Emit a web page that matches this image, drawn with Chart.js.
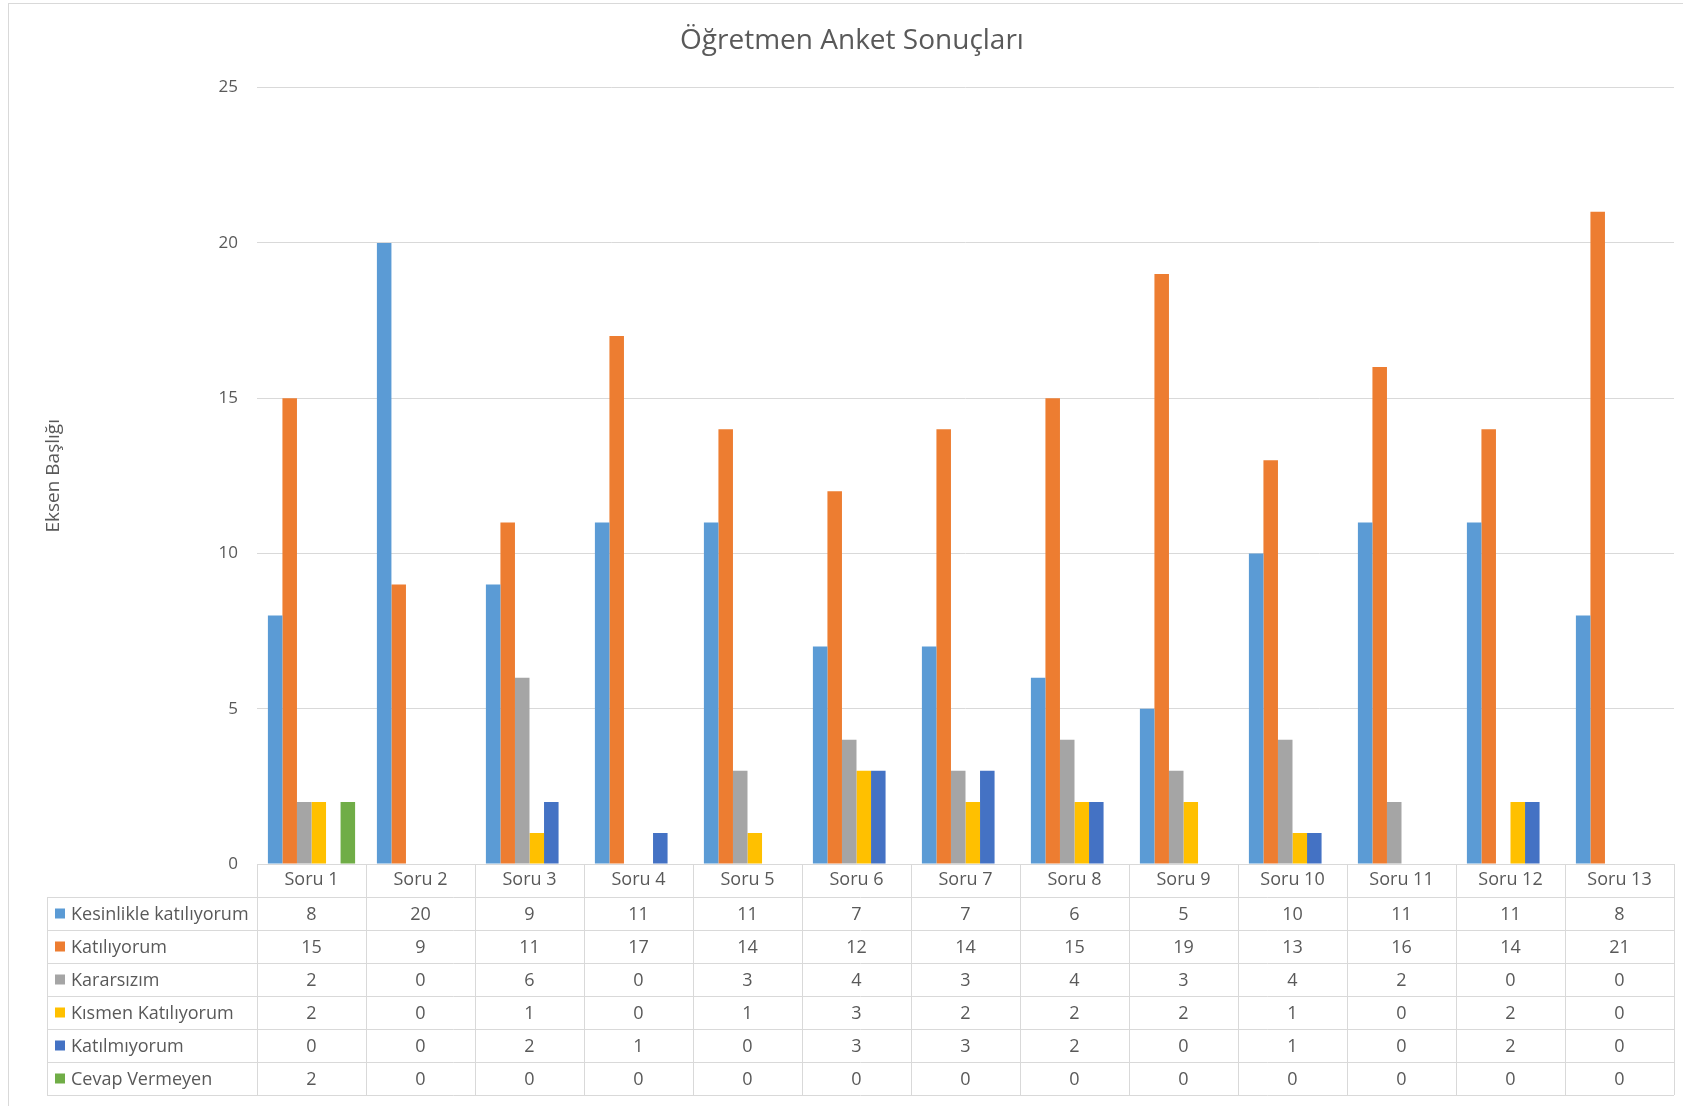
<!DOCTYPE html>
<html>
<head>
<meta charset="utf-8">
<script src="https://cdn.jsdelivr.net/npm/chart.js@4"></script>
<style>
  body { margin: 0; background: #fff; }
  #wrap { width: 1683px; height: 1106px; position: relative; }
</style>
</head>
<body>
<div id="wrap"><canvas id="surveyChart"></canvas></div>
<script>
const categories = ["Soru 1", "Soru 2", "Soru 3", "Soru 4", "Soru 5", "Soru 6", "Soru 7",
  "Soru 8", "Soru 9", "Soru 10", "Soru 11", "Soru 12", "Soru 13"];

const kesinlikle = [8, 20, 9, 11, 11, 7, 7, 6, 5, 10, 11, 11, 8];
const katiliyorum = [15, 9, 11, 17, 14, 12, 14, 15, 19, 13, 16, 14, 21];
const kararsizim = [2, 0, 6, 0, 3, 4, 3, 4, 3, 4, 2, 0, 0];
const kismen = [2, 0, 1, 0, 1, 3, 2, 2, 2, 1, 0, 2, 0];
const katilmiyorum = [0, 0, 2, 1, 0, 3, 3, 2, 0, 1, 0, 2, 0];
const cevapVermeyen = [2, 0, 0, 0, 0, 0, 0, 0, 0, 0, 0, 0, 0];

const seriesNames = ["Kesinlikle katılıyorum", "Katılıyorum", "Kararsızım",
  "Kısmen Katılıyorum", "Katılmıyorum", "Cevap Vermeyen"];
const seriesValues = [kesinlikle, katiliyorum, kararsizim, kismen, katilmiyorum, cevapVermeyen];
const colors = ["#5B9BD5", "#ED7D31", "#A5A5A5", "#FFC000", "#4472C4", "#70AD47"];

const yTicks = [0, 5, 10, 15, 20, 25];

const FONT = "'Open Sans', sans-serif";
const TEXT = "#595959";
const LINE = "#d9d9d9";

// frame + data table under the plot
const tablePlugin = {
  id: "dataTable",
  afterDraw(chart) {
    const ctx = chart.ctx;
    const x = chart.scales.x;
    const area = chart.chartArea;
    const colW = (x.right - x.left) / categories.length;
    const rowH = 33;
    const headTop = area.bottom;
    const rowsTop = headTop + rowH;
    const bottom = rowsTop + rowH * seriesNames.length;
    const legLeft = 47;

    ctx.save();
    ctx.strokeStyle = LINE;
    ctx.lineWidth = 1;

    // outer chart border
    ctx.strokeRect(8.5, 3.5, 1700, 1200);

    ctx.beginPath();
    ctx.moveTo(x.left, Math.round(headTop) + 0.5);
    ctx.lineTo(x.right, Math.round(headTop) + 0.5);
    for (let r = 0; r <= seriesNames.length; r++) {
      const y = Math.round(rowsTop + r * rowH) + 0.5;
      ctx.moveTo(legLeft, y);
      ctx.lineTo(x.right, y);
    }
    ctx.moveTo(legLeft + 0.5, rowsTop);
    ctx.lineTo(legLeft + 0.5, bottom);
    for (let c = 0; c <= categories.length; c++) {
      const xx = Math.round(x.left + c * colW) + 0.5;
      ctx.moveTo(xx, headTop);
      ctx.lineTo(xx, bottom);
    }
    ctx.stroke();

    ctx.font = "18px " + FONT;
    ctx.fillStyle = TEXT;
    ctx.textBaseline = "middle";
    seriesNames.forEach((name, r) => {
      const cy = rowsTop + r * rowH + rowH / 2;
      ctx.fillStyle = colors[r];
      ctx.fillRect(55, cy - 5, 10, 10);
      ctx.fillStyle = TEXT;
      ctx.textAlign = "left";
      ctx.fillText(name, 71, cy + 1);
      ctx.textAlign = "center";
      seriesValues[r].forEach((v, i) => {
        ctx.fillText(String(v), x.getPixelForValue(i), cy + 1);
      });
    });
    ctx.restore();
  }
};

const ctx = document.getElementById("surveyChart").getContext("2d");

new Chart(ctx, {
  type: "bar",
  data: {
    labels: categories,
    datasets: seriesNames.map((name, i) => ({
      label: name,
      data: seriesValues[i],
      backgroundColor: colors[i],
      borderWidth: 0,
      barPercentage: 1,
      categoryPercentage: 0.8,
    })),
  },
  options: {
    responsive: true,
    maintainAspectRatio: false,
    animation: false,
    layout: {
      padding: { left: 30, right: 9, top: 0, bottom: 209 },
    },
    plugins: {
      legend: { display: false },
      tooltip: { enabled: false },
      title: {
        display: true,
        text: "Öğretmen Anket Sonuçları",
        color: TEXT,
        font: { family: FONT, size: 28, weight: "normal" },
        padding: { top: 24, bottom: 30 },
      },
    },
    scales: {
      x: {
        grid: { display: false, drawTicks: false },
        border: { display: true, color: LINE },
        ticks: {
          color: TEXT,
          font: { family: FONT, size: 18 },
          padding: 5,
          maxRotation: 0,
        },
        afterFit(scale) {
          scale.height = 33;
        },
      },
      y: {
        min: 0,
        max: 25,
        afterBuildTicks(scale) {
          scale.ticks = yTicks.map(v => ({ value: v }));
        },
        grid: { color: LINE, drawTicks: false },
        border: { display: false },
        ticks: {
          color: TEXT,
          font: { family: FONT, size: 17 },
          padding: 19,
        },
        title: {
          display: true,
          text: "Eksen Başlığı",
          color: TEXT,
          font: { family: FONT, size: 19 },
          padding: { top: 12 },
        },
        afterFit(scale) {
          scale.width = 227;
        },
      },
    },
  },
  plugins: [tablePlugin],
});
</script>
</body>
</html>
